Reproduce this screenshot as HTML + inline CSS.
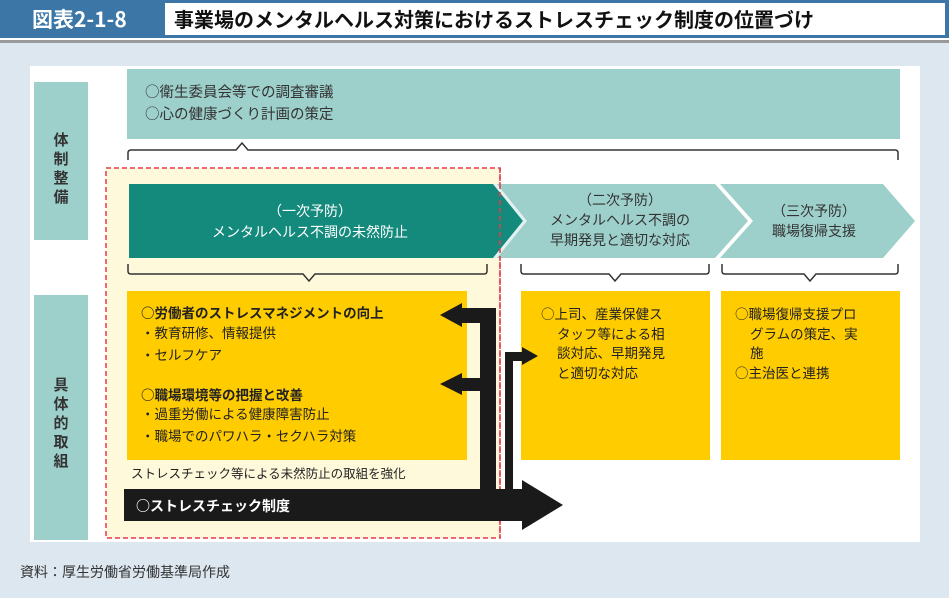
<!DOCTYPE html>
<html><head><meta charset="utf-8"><style>
html,body{margin:0;padding:0;background:#fff;}
svg{display:block;}
text{font-family:"Noto Sans CJK JP","Liberation Sans",sans-serif;}
</style></head><body>
<svg width="949" height="598" viewBox="0 0 949 598" xmlns="http://www.w3.org/2000/svg">
<rect x="0" y="0" width="949" height="38" fill="#3b76a6"/>
<rect x="165" y="3" width="780" height="32" fill="#fff"/>
<text x="32" y="27" font-size="21" font-weight="bold" fill="#fff">図表2-1-8</text>
<text x="174" y="27" font-size="20" font-weight="bold" fill="#111">事業場のメンタルヘルス対策におけるストレスチェック制度の位置づけ</text>
<rect x="0" y="40" width="949" height="3" fill="#999"/>
<rect x="0" y="43" width="949" height="555" fill="#dce7f0"/>
<rect x="30" y="66" width="890" height="476" fill="#fff"/>
<rect x="34" y="82" width="54" height="158" fill="#9dcfcb"/>
<text font-size="15" font-weight="bold" fill="#333" text-anchor="middle"><tspan x="61" y="145">体</tspan><tspan x="61" y="164">制</tspan><tspan x="61" y="183">整</tspan><tspan x="61" y="202">備</tspan></text>
<rect x="34" y="295" width="54" height="245" fill="#9dcfcb"/>
<text font-size="15" font-weight="bold" fill="#333" text-anchor="middle"><tspan x="61" y="390">具</tspan><tspan x="61" y="409">体</tspan><tspan x="61" y="428">的</tspan><tspan x="61" y="447">取</tspan><tspan x="61" y="466">組</tspan></text>
<rect x="127" y="69" width="773" height="70" fill="#9dcfcb"/>
<text x="145" y="97" font-size="14.5" fill="#333">○衛生委員会等での調査審議</text>
<text x="145" y="119" font-size="14.5" fill="#333">○心の健康づくり計画の策定</text>
<path d="M128 160 V153 Q128 150 131 150 H236 L242 143 L248 150 H895 Q898 150 898 153 V160" fill="none" stroke="#333" stroke-width="1.5"/>
<rect x="106" y="168" width="394" height="370" fill="#fff9dc" stroke="#e8394a" stroke-width="1.5" stroke-dasharray="5,3"/>
<polygon points="715,184 883,184 915,221 883,258 715,258 745,221" fill="#9dcfcb"/>
<polygon points="490,184 715,184 748,221 715,258 490,258" fill="#9dcfcb"/>
<polygon points="715,184 720,184 753,221 720,258 715,258 748,221" fill="#fff"/>
<polygon points="129,184 493,184 523,221 493,258 129,258" fill="#148a7d"/>
<polygon points="493,184 497,184 527,221 497,258 493,258 523,221" fill="#fff" opacity="0.7"/>
<line x1="500" y1="168" x2="500" y2="538" stroke="#e8394a" stroke-width="1.5" stroke-dasharray="5,3"/>
<text x="310" y="216" font-size="14" fill="#fff" text-anchor="middle">（一次予防）</text>
<text x="310" y="237" font-size="14" fill="#fff" text-anchor="middle">メンタルヘルス不調の未然防止</text>
<text x="620" y="205" font-size="14" fill="#333" text-anchor="middle">（二次予防）</text>
<text x="620" y="225" font-size="14" fill="#333" text-anchor="middle">メンタルヘルス不調の</text>
<text x="620" y="245" font-size="14" fill="#333" text-anchor="middle">早期発見と適切な対応</text>
<text x="814" y="216" font-size="14" fill="#333" text-anchor="middle">（三次予防）</text>
<text x="814" y="236" font-size="14" fill="#333" text-anchor="middle">職場復帰支援</text>
<path d="M128 264 V271 Q128 274 131 274 H303 L309 281 L315 274 H484 Q487 274 487 271 V264" fill="none" stroke="#333" stroke-width="1.5"/>
<path d="M521 264 V271 Q521 274 524 274 H609 L615 281 L621 274 H706 Q709 274 709 271 V264" fill="none" stroke="#333" stroke-width="1.5"/>
<path d="M722 264 V271 Q722 274 725 274 H804 L810 281 L816 274 H895 Q898 274 898 271 V264" fill="none" stroke="#333" stroke-width="1.5"/>
<rect x="127" y="291" width="340" height="169" fill="#ffcc00"/>
<rect x="521" y="291" width="189" height="169" fill="#ffcc00"/>
<rect x="721" y="291" width="179" height="169" fill="#ffcc00"/>
<g font-size="13.5" fill="#222">
<text x="141" y="318" font-weight="bold">○労働者のストレスマネジメントの向上</text>
<text x="141" y="338">・教育研修、情報提供</text>
<text x="141" y="360">・セルフケア</text>
<text x="141" y="400" font-weight="bold">○職場環境等の把握と改善</text>
<text x="141" y="419">・過重労働による健康障害防止</text>
<text x="141" y="441">・職場でのパワハラ・セクハラ対策</text>
<text x="541" y="319">○上司、産業保健ス</text>
<text x="557" y="339">タッフ等による相</text>
<text x="557" y="358">談対応、早期発見</text>
<text x="557" y="378">と適切な対応</text>
<text x="735" y="319">○職場復帰支援プロ</text>
<text x="750" y="339">グラムの策定、実</text>
<text x="750" y="358">施</text>
<text x="735" y="378">○主治医と連携</text>
</g>
<text x="131" y="478" font-size="12.5" fill="#222">ストレスチェック等による未然防止の取組を強化</text>
<rect x="480" y="308" width="16" height="184" fill="#1a1a1a"/>
<rect x="458" y="308" width="38" height="15" fill="#1a1a1a"/>
<polygon points="440,315 462,303 462,327" fill="#1a1a1a"/>
<rect x="458" y="378" width="38" height="13" fill="#1a1a1a"/>
<polygon points="440,384 462,373 462,395" fill="#1a1a1a"/>
<rect x="505" y="352" width="8" height="140" fill="#1a1a1a"/>
<rect x="505" y="352" width="20" height="9" fill="#1a1a1a"/>
<polygon points="538,356 522,347 522,365" fill="#1a1a1a"/>
<rect x="124" y="489" width="400" height="32" fill="#1a1a1a"/>
<polygon points="563,505 522,480 522,530" fill="#1a1a1a"/>
<text x="136" y="511" font-size="14" font-weight="bold" fill="#fff">○ストレスチェック制度</text>
<text x="20" y="577" font-size="14" fill="#333">資料：厚生労働省労働基準局作成</text>
</svg>
</body></html>
